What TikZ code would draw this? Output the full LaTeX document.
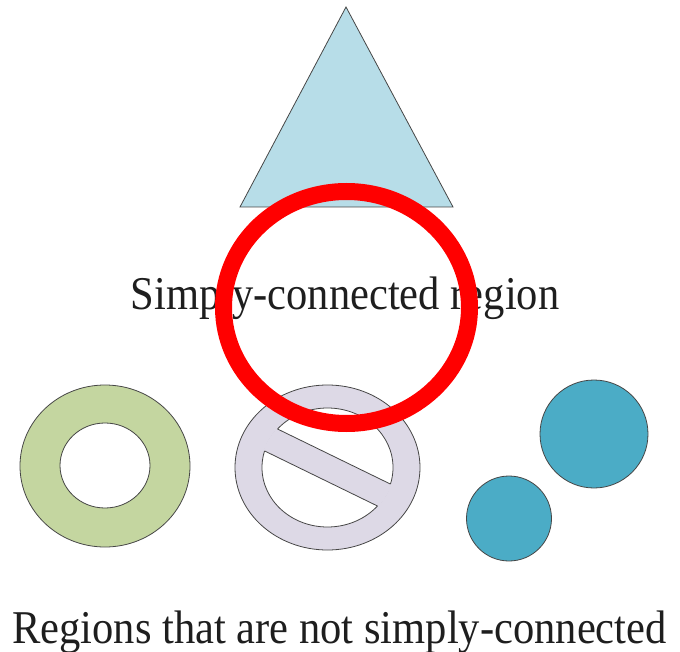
\documentclass[tikz,border=0pt]{standalone}
\usepackage{fontspec}
\setmainfont{Liberation Serif}
\usepackage{graphicx}
\definecolor{triblue}{RGB}{183,221,232}
\definecolor{ringgreen}{RGB}{196,214,160}
\definecolor{lavender}{RGB}{221,217,230}
\definecolor{tealdisc}{RGB}{75,172,198}
\definecolor{edge}{RGB}{70,70,70}
\definecolor{txtgray}{RGB}{30,30,30}
\begin{document}
\begin{tikzpicture}[x=1pt,y=-1pt,
  outl/.style={draw=edge,line width=0.8pt},
  bigtxt/.style={font=\fontsize{47}{50}\selectfont,text=txtgray,anchor=base,inner sep=0pt}]
\useasboundingbox (0,0) rectangle (680,652);
% triangle
\draw[outl,fill=triblue] (346,7) -- (453,207) -- (240,207) -- cycle;
% top label
\node[bigtxt] (top) at (345,310) {\scalebox{0.905}[1]{Simply-connected region}};
% green annulus
\fill[ringgreen,even odd rule] (105,466) ellipse [x radius=85,y radius=81]
  (105,465.5) ellipse [x radius=45,y radius=42.5];
\draw[outl] (105,466) ellipse [x radius=85,y radius=81];
\draw[outl] (105,465.5) ellipse [x radius=45,y radius=42.5];
% no symbol
\draw[outl,fill=lavender] (327.5,467.5) ellipse [x radius=92.5,y radius=82.5];
\draw[outl,fill=white] (327.5,467.5) ellipse [x radius=65.5,y radius=59.5];
\begin{scope}
  \clip (327.5,467.5) ellipse [x radius=66.5,y radius=60.5];
  \begin{scope}[shift={(327.5,467.5)},rotate=-26]
    \fill[lavender] (-80,-12.7) rectangle (80,12.7);
  \end{scope}
\end{scope}
\begin{scope}
  \clip (327.5,467.5) ellipse [x radius=65.5,y radius=59.5];
  \begin{scope}[shift={(327.5,467.5)},rotate=-26]
    \draw[outl] (-80,-12.7) -- (80,-12.7);
    \draw[outl] (-80,12.7) -- (80,12.7);
  \end{scope}
\end{scope}
% teal discs
\draw[outl,fill=tealdisc] (594,434) circle [radius=54];
\draw[outl,fill=tealdisc] (509,518.5) circle [radius=42.5];
% bottom label
\node[bigtxt] (bottom) at (339.5,643) {\scalebox{0.905}[1]{Regions that are not simply-connected}};
% red circle
\draw[red,line width=17pt] (346.5,307.5) ellipse [x radius=123,y radius=116];
\end{tikzpicture}
\end{document}
